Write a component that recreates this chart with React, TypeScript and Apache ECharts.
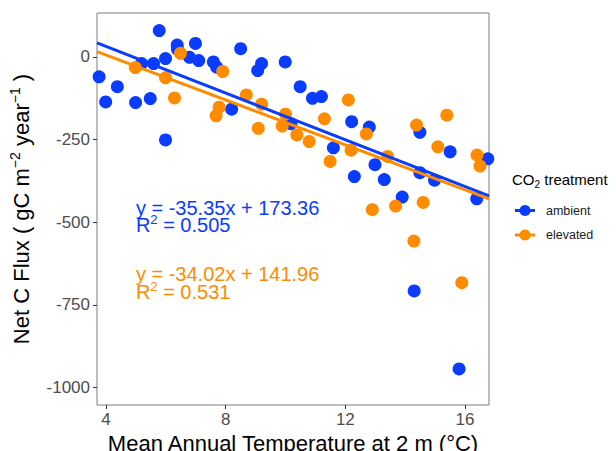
import React, { useEffect, useRef } from "react";
import * as echarts from "echarts";

// ---- data ----
const ambientTemp = [3.77, 3.99, 4.38, 4.99, 5.19, 5.48, 5.59, 5.78, 5.99, 5.99, 6.38, 6.39, 6.79, 6.99, 7.1, 7.59, 7.7, 8.2, 8.5, 9.07, 9.2, 9.99, 10.18, 10.49, 10.9, 11.2, 11.6, 12.21, 12.3, 12.8, 12.99, 13.3, 13.9, 14.3, 14.49, 14.49, 14.98, 15.5, 15.8, 16.39, 16.76];
const ambientFlux = [-60, -136, -90, -138, -20, -126, -20, 80, -5, -251, 36, 23, -1, 41, -11, -15, -31, -158, 25, -41, -20, -15, -202, -90, -125, -120, -275, -196, -362, -212, -326, -371, -424, -708, -228, -350, -373, -287, -944, -429, -308];
const elevatedTemp = [4.98, 5.99, 6.29, 6.49, 7.68, 7.78, 7.9, 8.69, 9.09, 9.2, 9.89, 10.0, 10.38, 10.79, 11.3, 11.49, 12.1, 12.19, 12.7, 12.9, 13.41, 13.68, 14.29, 14.38, 14.6, 15.09, 15.39, 15.89, 16.4, 16.5];
const elevatedFlux = [-32, -63, -124, 11, -178, -152, -44, -115, -216, -143, -209, -173, -236, -256, -187, -316, -130, -282, -233, -462, -301, -451, -557, -206, -440, -272, -176, -683, -297, -330];

const xTicks = [4, 8, 12, 16];
const yTicks = [-1000, -750, -500, -250, 0];
const xRange = [3.7, 16.8];
const yRange = [-1053, 133];

const seriesNames = ["ambient", "elevated"];
const fitSlopes = [-35.35, -34.02];
const fitIntercepts = [173.36, 141.96];
const fitR2 = ["0.505", "0.531"];
const labelX = 5;
const eqLabelY = [-456, -656];
const r2LabelY = [-508, -710];

const COLORS = ["#0A3CFF", "#FF8C00"];
const FONT = "'Liberation Sans', Arial, Helvetica, sans-serif";

function zip(xs: number[], ys: number[]) {
  return xs.map((x, i) => [x, ys[i]]);
}

export default function App() {
  const ref = useRef<HTMLDivElement>(null);
  useEffect(() => {
    if (!ref.current) return;
    const chart = echarts.init(ref.current, null, { renderer: "svg" });
    const fitLines = fitSlopes.map((s, i) => [
      [xRange[0], fitIntercepts[i] + s * xRange[0]],
      [xRange[1], fitIntercepts[i] + s * xRange[1]],
    ]);
    chart.setOption({
      animation: false,
      textStyle: { fontFamily: FONT },
      grid: {
        left: 97,
        right: 127,
        top: 13,
        bottom: 46,
        containLabel: false,
        outerBoundsMode: "none",
        show: true,
        borderColor: "#7F7F7F",
        borderWidth: 1,
        backgroundColor: "#fff",
      },
      xAxis: {
        type: "value",
        min: xRange[0],
        max: xRange[1],
        splitLine: { show: false },
        axisLine: { show: false, onZero: false },
        axisTick: { show: true, customValues: xTicks, length: 4, lineStyle: { color: "#333" } },
        axisLabel: { customValues: xTicks, color: "#4D4D4D", fontSize: 17, margin: 6, fontFamily: FONT, formatter: (v: number) => String(v) },
        name: "Mean Annual Temperature at 2 m (°C)",
        nameLocation: "middle",
        nameGap: 25,
        nameTextStyle: { fontSize: 22, color: "#000", fontFamily: FONT },
      },
      yAxis: {
        type: "value",
        min: yRange[0],
        max: yRange[1],
        splitLine: { show: false },
        axisLine: { show: false, onZero: false },
        axisTick: { show: true, customValues: yTicks, length: 4, lineStyle: { color: "#333" } },
        axisLabel: { customValues: yTicks, color: "#4D4D4D", fontSize: 17, margin: 7, fontFamily: FONT, formatter: (v: number) => String(v) },
        name: "Net C Flux ( gC m{sup|−2} year{sup|−1} )",
        nameLocation: "middle",
        nameRotate: 90,
        nameGap: 48,
        nameTextStyle: {
          fontSize: 22,
          color: "#000",
          fontFamily: FONT,
          lineHeight: 28,
          rich: { sup: { fontSize: 14, verticalAlign: "top", lineHeight: 28, color: "#000", fontFamily: FONT } },
        },
      },
      series: [
        ...seriesNames.map((n, i) => ({
          name: n,
          type: "scatter",
          symbol: "circle",
          symbolSize: 13,
          itemStyle: { color: COLORS[i], opacity: 1 },
          data: zip(i === 0 ? ambientTemp : elevatedTemp, i === 0 ? ambientFlux : elevatedFlux),
          z: 2,
        })),
        ...seriesNames.map((n, i) => ({
          name: n + " fit",
          type: "line",
          showSymbol: false,
          lineStyle: { color: COLORS[i], width: 3 },
          data: fitLines[i],
          z: 3,
        })),
      ],
    });

    const texts: any[] = [];
    seriesNames.forEach((_, i) => {
      const p1 = chart.convertToPixel({ gridIndex: 0 }, [labelX, eqLabelY[i]]) as number[];
      const p2 = chart.convertToPixel({ gridIndex: 0 }, [labelX, r2LabelY[i]]) as number[];
      const sign = fitIntercepts[i] >= 0 ? "+" : "-";
      texts.push({
        type: "text",
        x: p1[0],
        y: p1[1],
        z: 10,
        style: {
          text: `y = ${fitSlopes[i].toFixed(2)}x ${sign} ${Math.abs(fitIntercepts[i]).toFixed(2)}`,
          fill: COLORS[i],
          font: `20px ${FONT}`,
          align: "left",
          verticalAlign: "middle",
        },
      });
      texts.push({
        type: "text",
        x: p2[0],
        y: p2[1],
        z: 10,
        style: {
          text: `R{sup|2} = ${fitR2[i]}`,
          fill: COLORS[i],
          font: `20px ${FONT}`,
          align: "left",
          verticalAlign: "middle",
          lineHeight: 24,
          rich: { sup: { fontSize: 13, verticalAlign: "top", lineHeight: 24, fill: COLORS[i], fontFamily: FONT } },
        },
      });
    });

    // legend (ggplot style key: line + point)
    const legendItems: any[] = [
      {
        type: "text",
        x: 512,
        y: 179,
        style: {
          text: "CO{sub|2} treatment",
          fill: "#000",
          font: `15px ${FONT}`,
          verticalAlign: "middle",
          lineHeight: 20,
          rich: { sub: { fontSize: 10, verticalAlign: "bottom", lineHeight: 20, fill: "#000", fontFamily: FONT } },
        },
      },
    ];
    seriesNames.forEach((n, i) => {
      const y = 210.5 + i * 24.5;
      legendItems.push({ type: "line", shape: { x1: 515, y1: y, x2: 535, y2: y }, style: { stroke: COLORS[i], lineWidth: 3 } });
      legendItems.push({ type: "circle", shape: { cx: 525, cy: y, r: 5.5 }, style: { fill: COLORS[i] } });
      legendItems.push({
        type: "text",
        x: 546,
        y,
        style: { text: n, fill: "#1A1A1A", font: `12.5px ${FONT}`, verticalAlign: "middle" },
      });
    });

    chart.setOption({ graphic: [...texts, ...legendItems] });
    return () => chart.dispose();
  }, []);
  return <div ref={ref} style={{ position: "fixed", left: 0, top: 0, width: 616, height: 451, background: "#fff" }} />;
}
